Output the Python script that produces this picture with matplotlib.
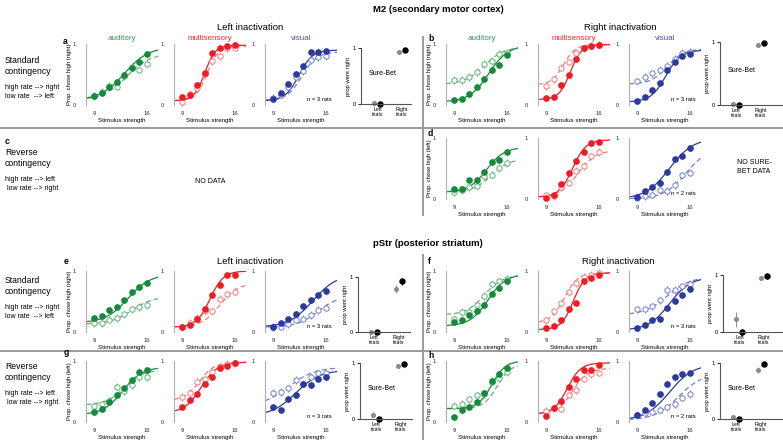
import numpy as np
import matplotlib
matplotlib.use('Agg')
import matplotlib.pyplot as plt
from matplotlib.lines import Line2D

plt.rcParams['font.family'] = ['Liberation Sans', 'DejaVu Sans']

# stimulus levels (events / s)
STIM = [9, 10, 11, 12, 13, 14, 15, 16]
MODALITIES = ['auditory', 'multisensory', 'visual']

# proportions per panel: rows = auditory, multisensory, visual
# ctrl = filled / solid, inact = open / dashed
a_ctrl = [[0.14, 0.19, 0.29, 0.38, 0.49, 0.60, 0.70, 0.84],
          [0.13, 0.17, 0.32, 0.52, 0.86, 0.93, 0.96, 0.98],
          [0.10, 0.20, 0.35, 0.50, 0.64, 0.87, 0.87, 0.88]]
a_inact = [[0.15, 0.22, 0.31, 0.30, 0.47, 0.63, 0.58, 0.68],
           [0.05, 0.18, 0.28, 0.50, 0.72, 0.80, 0.93, 0.94],
           [0.12, 0.17, 0.30, 0.46, 0.55, 0.73, 0.78, 0.80]]
b_ctrl = [[0.08, 0.10, 0.18, 0.30, 0.42, 0.57, 0.66, 0.82],
          [0.11, 0.13, 0.32, 0.49, 0.75, 0.93, 0.97, 0.98],
          [0.07, 0.13, 0.25, 0.36, 0.57, 0.71, 0.80, 0.84]]
b_inact = [[0.41, 0.41, 0.46, 0.54, 0.67, 0.72, 0.84, 0.86],
           [0.31, 0.42, 0.61, 0.70, 0.86, 0.93, 0.97, 0.99],
           [0.39, 0.46, 0.52, 0.58, 0.64, 0.76, 0.85, 0.87]]
d_ctrl = [[0.16, 0.16, 0.31, 0.31, 0.44, 0.60, 0.64, 0.77],
          [0.02, 0.06, 0.24, 0.43, 0.62, 0.77, 0.91, 0.94],
          [0.04, 0.13, 0.20, 0.27, 0.45, 0.66, 0.70, 0.83]]
d_inact = [[0.11, 0.14, 0.19, 0.22, 0.37, 0.40, 0.51, 0.59],
           [0.06, 0.05, 0.19, 0.27, 0.46, 0.54, 0.70, 0.77],
           [0.02, 0.05, 0.07, 0.14, 0.13, 0.23, 0.39, 0.43]]
e_ctrl = [[0.23, 0.27, 0.36, 0.41, 0.52, 0.65, 0.74, 0.81],
          [0.08, 0.12, 0.21, 0.37, 0.61, 0.77, 0.93, 0.93],
          [0.08, 0.14, 0.21, 0.29, 0.42, 0.52, 0.60, 0.68]]
e_inact = [[0.14, 0.14, 0.20, 0.23, 0.29, 0.37, 0.41, 0.44],
           [0.08, 0.15, 0.23, 0.35, 0.34, 0.54, 0.62, 0.66],
           [0.08, 0.09, 0.13, 0.20, 0.22, 0.28, 0.36, 0.40]]
f_ctrl = [[0.16, 0.20, 0.28, 0.34, 0.44, 0.63, 0.72, 0.83],
          [0.06, 0.10, 0.19, 0.38, 0.48, 0.83, 0.89, 0.94],
          [0.07, 0.12, 0.20, 0.22, 0.40, 0.51, 0.61, 0.70]]
f_inact = [[0.22, 0.33, 0.33, 0.44, 0.59, 0.78, 0.83, 0.87],
           [0.19, 0.34, 0.47, 0.66, 0.80, 0.90, 0.94, 0.97],
           [0.37, 0.37, 0.42, 0.52, 0.69, 0.69, 0.75, 0.79]]
g_ctrl = [[0.16, 0.22, 0.33, 0.44, 0.55, 0.69, 0.82, 0.85],
          [0.24, 0.36, 0.46, 0.62, 0.74, 0.88, 0.92, 0.96],
          [0.24, 0.20, 0.37, 0.44, 0.62, 0.60, 0.70, 0.73]]
g_inact = [[0.26, 0.29, 0.35, 0.58, 0.51, 0.60, 0.74, 0.74],
           [0.41, 0.48, 0.66, 0.70, 0.82, 0.90, 0.95, 0.96],
           [0.48, 0.49, 0.55, 0.69, 0.63, 0.73, 0.80, 0.81]]
h_ctrl = [[0.08, 0.19, 0.24, 0.33, 0.47, 0.68, 0.79, 0.89],
          [0.10, 0.23, 0.35, 0.57, 0.71, 0.85, 0.86, 0.93],
          [0.12, 0.20, 0.31, 0.46, 0.62, 0.74, 0.78, 0.80]]
h_inact = [[0.27, 0.30, 0.37, 0.44, 0.46, 0.66, 0.72, 0.82],
           [0.18, 0.23, 0.22, 0.45, 0.52, 0.71, 0.78, 0.81],
           [0.12, 0.15, 0.17, 0.20, 0.24, 0.29, 0.40, 0.46]]

# psychometric fit parameters [lower, upper, midpoint, width]
a_fit_ctrl = [[0.08, 0.95, 13.0, 1.6], [0.07, 0.98, 12.0, 0.7], [0.07, 0.90, 12.4, 0.9]]
a_fit_inact = [[0.08, 0.85, 13.3, 1.6], [0.07, 0.96, 12.3, 0.75], [0.07, 0.87, 12.8, 1.0]]
b_fit_ctrl = [[0.05, 0.98, 13.6, 1.3], [0.09, 0.99, 12.2, 0.75], [0.05, 0.90, 12.8, 1.0]]
b_fit_inact = [[0.34, 0.95, 13.0, 1.3], [0.33, 0.99, 11.3, 0.8], [0.34, 0.92, 13.0, 1.1]]
d_fit_ctrl = [[0.11, 0.85, 13.3, 1.2], [0.03, 0.97, 12.5, 0.9], [0.0, 1.0, 13.3, 1.6]]
d_fit_inact = [[0.12, 0.66, 14.0, 1.2], [0.03, 0.80, 13.2, 1.2], [0.0, 0.85, 15.5, 1.5]]
e_fit_ctrl = [[0.15, 0.95, 13.5, 1.5], [0.08, 1.0, 12.7, 0.9], [0.08, 0.95, 14.3, 1.6]]
e_fit_inact = [[0.13, 0.58, 14.0, 1.4], [0.08, 0.80, 14.0, 1.2], [0.08, 0.60, 15.0, 1.4]]
f_fit_ctrl = [[0.10, 0.95, 13.5, 1.2], [0.04, 0.97, 12.6, 0.8], [0.03, 0.90, 13.3, 1.4]]
f_fit_inact = [[0.28, 0.93, 13.0, 1.2], [0.15, 0.97, 11.4, 0.9], [0.28, 0.90, 13.0, 1.5]]
g_fit_ctrl = [[0.12, 0.90, 12.8, 1.3], [0.15, 0.98, 11.5, 1.1], [0.10, 0.85, 12.0, 1.6]]
g_fit_inact = [[0.28, 0.85, 13.0, 1.2], [0.35, 0.98, 11.3, 1.0], [0.25, 0.90, 11.0, 1.8]]
h_fit_ctrl = [[0.22, 1.0, 14.0, 0.9], [0.13, 0.97, 11.8, 0.9], [0.03, 0.95, 13.3, 1.6]]
h_fit_inact = [[0.22, 0.95, 14.7, 0.9], [0.13, 0.88, 12.5, 1.0], [0.03, 0.80, 14.5, 1.6]]

# sure-bet: [inact left, ctrl left, inact right, ctrl right]
sb_a = [0.02, 0.0, 0.93, 0.96]
sb_a_err = [0.01, 0.01, 0.02, 0.01]
sb_b = [0.01, 0.0, 0.95, 0.98]
sb_b_err = [0.01, 0.01, 0.02, 0.01]
sb_e = [0.0, 0.0, 0.78, 0.92]
sb_e_err = [0.01, 0.01, 0.07, 0.07]
sb_f = [0.22, 0.0, 0.95, 0.98]
sb_f_err = [0.13, 0.06, 0.03, 0.05]
sb_g = [0.08, 0.0, 0.95, 0.98]
sb_g_err = [0.04, 0.01, 0.03, 0.01]
sb_h = [0.03, 0.0, 0.88, 0.99]
sb_h_err = [0.03, 0.01, 0.05, 0.01]

ERR_CTRL = 0.035
ERR_INACT = 0.06

COL_CTRL = ['#168a3c', '#ee1c25', '#2c3a9c']
COL_INACT = ['#5db276', '#f37b7b', '#7280c4']
COL_TITLE = ['#3a9a55', '#ee2a2a', '#4450b0']

W, H = 783, 440
fig = plt.figure(figsize=(7.83, 4.4), dpi=100)


def px_axes(x, top, w, h):
    return fig.add_axes([x / W, 1 - (top + h) / H, w / W, h / H])


def ftext(x, y, s, **kw):
    fig.text(x / W, 1 - y / H, s, **kw)


def fline(x0, y0, x1, y1):
    fig.add_artist(Line2D([x0 / W, x1 / W], [1 - y0 / H, 1 - y1 / H],
                          transform=fig.transFigure, color='#9a9a9a', lw=1.4))


def logistic(x, p):
    lo, hi, mu, s = p
    return lo + (hi - lo) / (1 + np.exp(-(x - mu) / s))


XLIM = (7.9, 17.5)
PW, PH = 72, 61


def psych_row(cols, top, ctrl, inact, fit_c, fit_i, ylab, nrats, titles=False):
    xs = np.linspace(XLIM[0], XLIM[1], 200)
    for k, x0 in enumerate(cols):
        ax = px_axes(x0, top, PW, PH)
        cc, ci = COL_CTRL[k], COL_INACT[k]
        ax.plot(xs, logistic(xs, fit_i[k]), color=ci, lw=0.9, ls=(0, (4, 2.5)))
        ax.plot(xs, logistic(xs, fit_c[k]), color=cc, lw=0.9)
        ax.errorbar(STIM, inact[k], yerr=ERR_INACT, fmt='o', ms=3.8, mfc='white',
                    mec=ci, mew=0.7, ecolor=ci, elinewidth=0.7, clip_on=False)
        ax.errorbar(STIM, ctrl[k], yerr=ERR_CTRL, fmt='o', ms=3.8, color=cc,
                    elinewidth=0.7, clip_on=False)
        ax.set_xlim(*XLIM)
        ax.set_ylim(0, 1)
        ax.set_xticks([9, 16])
        ax.set_yticks([0, 1])
        ax.tick_params(length=0, labelsize=4.2, colors='#333333')
        ax.tick_params(axis='y', pad=7)
        ax.tick_params(axis='x', pad=4)
        for sp in ['top', 'right', 'bottom']:
            ax.spines[sp].set_visible(False)
        ax.spines['left'].set_color('#b0b0b0')
        ax.spines['left'].set_linewidth(0.8)
        ax.patch.set_alpha(0)
        ax.set_xlabel('Stimulus strength', fontsize=4.4, labelpad=1.5)
        if k == 0:
            ax.set_ylabel(ylab, fontsize=4.2, labelpad=0.5)
        if k == 2 and nrats:
            ax.text(0.93, 0.05, nrats, transform=ax.transAxes, ha='right',
                    va='bottom', fontsize=4.2)
        if titles:
            ax.set_title(MODALITIES[k], color=COL_TITLE[k], fontsize=5.8, pad=3)


def surebet(x0, top, w, h, vals, errs, label=True):
    ax = px_axes(x0, top, w, h)
    pos_inact = [13, 37.5]
    pos_ctrl = [18.5, 44]
    ax.errorbar(pos_inact, [vals[0], vals[2]], yerr=[errs[0], errs[2]], fmt='o',
                ms=2.6, color='#8a8a8a', elinewidth=0.7, clip_on=False)
    ax.errorbar(pos_ctrl, [vals[1], vals[3]], yerr=[errs[1], errs[3]], fmt='o',
                ms=3.6, color='black', elinewidth=0.7, clip_on=False)
    ax.set_xlim(0, w)
    ax.set_ylim(0, 1)
    ax.set_xticks([16.5, 41])
    ax.set_xticklabels(['Left\ntrials', 'Right\ntrials'], fontsize=3.8,
                       linespacing=1.0)
    ax.set_yticks([0, 1])
    ax.tick_params(axis='x', length=0, pad=2)
    ax.tick_params(axis='y', length=2, pad=1.5, labelsize=4.2, width=0.6)
    for sp in ['top', 'right']:
        ax.spines[sp].set_visible(False)
    for sp in ['left', 'bottom']:
        ax.spines[sp].set_color('#555555')
        ax.spines[sp].set_linewidth(0.8)
    ax.patch.set_alpha(0)
    ax.set_ylabel('prop went right', fontsize=4.2, labelpad=1)
    if label:
        ax.text(22, 0.55, 'Sure-Bet', ha='center', va='center', fontsize=5)


LEFT_COLS = [86, 174, 265]
RIGHT_COLS = [446, 538, 629]
YL_R = 'Prop. chose high (right)'
YL_L = 'Prop. chose high (left)'

# ---- M2 ----
ftext(373, 10, 'M2 (secondary motor cortex)', fontsize=6.8, fontweight='bold',
      ha='left', va='center')
ftext(250, 27, 'Left inactivation', fontsize=6.8, ha='center', va='center')
ftext(620, 27, 'Right inactivation', fontsize=6.8, ha='center', va='center')

psych_row(LEFT_COLS, 44, a_ctrl, a_inact, a_fit_ctrl, a_fit_inact, YL_R,
          'n = 3 rats', titles=True)
psych_row(RIGHT_COLS, 44, b_ctrl, b_inact, b_fit_ctrl, b_fit_inact, YL_R,
          'n = 3 rats', titles=True)
psych_row(RIGHT_COLS, 138, d_ctrl, d_inact, d_fit_ctrl, d_fit_inact, YL_L,
          'n = 2 rats')
surebet(361, 48, 50, 56, sb_a, sb_a_err)
surebet(720, 42, 62, 63, sb_b, sb_b_err)

ftext(210, 181, 'NO DATA', fontsize=5, ha='center', va='center')
ftext(737, 167, 'NO SURE-\nBET DATA', fontsize=5, ha='left', va='center',
      linespacing=1.3)

# ---- pStr ----
ftext(373, 243, 'pStr (posterior striatum)', fontsize=6.8, fontweight='bold',
      ha='left', va='center')
ftext(250, 262, 'Left inactivation', fontsize=6.8, ha='center', va='center')
ftext(618, 262, 'Right inactivation', fontsize=6.8, ha='center', va='center')

psych_row(LEFT_COLS, 271, e_ctrl, e_inact, e_fit_ctrl, e_fit_inact, YL_R,
          'n = 3 rats')
psych_row(RIGHT_COLS, 271, f_ctrl, f_inact, f_fit_ctrl, f_fit_inact, YL_R,
          'n = 3 rats')
psych_row(LEFT_COLS, 361, g_ctrl, g_inact, g_fit_ctrl, g_fit_inact, YL_L,
          'n = 3 rats')
psych_row(RIGHT_COLS, 361, h_ctrl, h_inact, h_fit_ctrl, h_fit_inact, YL_L,
          'n = 2 rats')
surebet(358, 277, 52, 55, sb_e, sb_e_err, label=False)
surebet(723, 275, 59, 57, sb_f, sb_f_err, label=False)
surebet(360, 363, 52, 56, sb_g, sb_g_err)
surebet(720, 363, 62, 56, sb_h, sb_h_err)

# panel letters
for x, y, s in [(63, 41, 'a'), (428, 38, 'b'), (5, 141, 'c'), (428, 133, 'd'),
                (64, 261, 'e'), (428, 262, 'f'), (64, 352, 'g'), (428, 355, 'h')]:
    ftext(x, y, s, fontsize=6.2, fontweight='bold', ha='left', va='center')

# row labels
def row_label(y, kind, l1, l2):
    ftext(5, y, kind + '\ncontingency', fontsize=6.2, ha='left', va='center',
          linespacing=1.3)
    ftext(5, y + 26, l1 + '\n' + l2, fontsize=5, ha='left', va='center',
          linespacing=1.35)

row_label(66, 'Standard', 'high rate --> right', 'low rate  --> left')
row_label(158, 'Reverse', 'high rate --> left', ' low rate --> right')
row_label(286, 'Standard', 'high rate --> right', 'low rate  --> left')
row_label(372, 'Reverse', 'high rate --> left', ' low rate --> right')

# separators
fline(0, 128, W, 128)
fline(423, 37, 423, 215)
fline(0, 351, W, 351)
fline(423, 255, 423, H)

fig.savefig('out.png', dpi=100)
